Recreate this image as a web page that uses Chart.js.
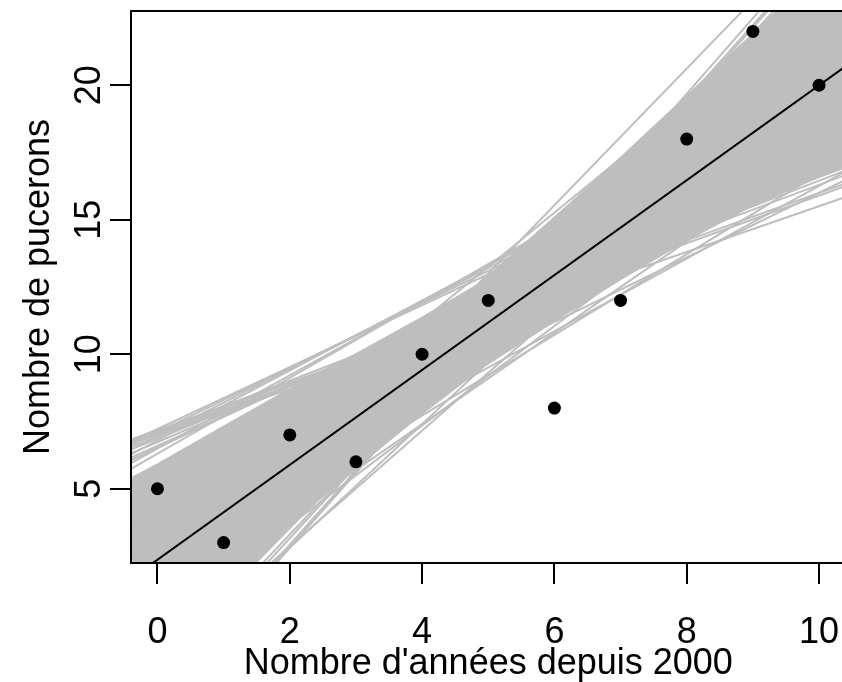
<!DOCTYPE html>
<html>
<head>
<meta charset="utf-8">
<script src="https://cdn.jsdelivr.net/npm/chart.js@4"></script>
<style>
  html, body { margin: 0; padding: 0; background: #fff; overflow: hidden; }
  #wrap { width: 842px; height: 682px; overflow: hidden; }
</style>
</head>
<body>
<div id="wrap"><canvas id="plot" width="852" height="682"></canvas></div>
<script>
// observed counts
const years = [0, 1, 2, 3, 4, 5, 6, 7, 8, 9, 10];
const aphids = [5, 3, 7, 6, 10, 12, 8, 12, 18, 22, 20];

const xTicks = [0, 2, 4, 6, 8, 10];
const yTicks = [5, 10, 15, 20];

// all straight lines are given by their values at these two x positions
const lineEnds = [-0.5, 10.5];
const fitLine = [1.48, 20.88];

// resampled regression lines (edges of the grey band)
const greyLines = [
  [6.74, 16.44], [6.62, 16.76], [6.46, 16.93], [6.36, 17.35], [6.21, 17.72],
  [6.05, 18.15], [5.95, 18.57], [6.58, 15.93], [6.61, 16.34], [6.65, 17.07],
  [6.65, 19.30], [6.50, 19.70], [6.33, 20.08], [6.15, 20.45], [5.82, 20.78],
  [5.60, 21.11], [2.20, 24.31], [0.91, 24.89], [-0.16, 25.26], [-0.97, 26.97],
  [-4.22, 26.71], [-4.08, 26.28], [-3.98, 26.38], [-3.54, 25.94], [-3.20, 25.40],
  [-2.76, 24.96], [-2.94, 22.35], [-2.52, 21.14], [-0.98, 19.38], [-0.25, 18.45],
  [0.97, 17.47], [2.08, 16.93], [3.40, 16.60]
];

// dense core of the band, where the lines overlap completely
const bandX = [-0.5, 0, 1, 2, 3, 4, 4.9, 6, 7, 8, 9, 10, 10.5];
const bandTop = [5.3, 5.95, 7.35, 8.75, 10.05, 11.4, 12.7, 15.1, 17.35, 19.65, 21.95, 24.3, 25.5];
const bandBottom = [-3.0, -1.5, 0.9, 3.6, 5.75, 7.75, 9.45, 11.2, 12.75, 14.2, 15.5, 16.55, 17.0];

const FONT = 'Liberation Sans';
const GREY = '#bebebe';

Chart.defaults.font.family = FONT;
Chart.defaults.color = '#000';

function pairs(xs, ys) {
  return xs.map((x, i) => ({ x: x, y: ys[i] }));
}

const datasets = [];
datasets.push({
  data: pairs(years, aphids),
  showLine: false,
  pointRadius: 6.5,
  pointBackgroundColor: '#000',
  pointBorderWidth: 0,
  order: 0
});
datasets.push({
  data: pairs(lineEnds, fitLine),
  borderColor: '#000',
  borderWidth: 2,
  pointRadius: 0,
  clip: 0,
  order: 1
});
greyLines.forEach(l => {
  datasets.push({
    data: pairs(lineEnds, l),
    borderColor: GREY,
    borderWidth: 2,
    pointRadius: 0,
    clip: 0,
    order: 2
  });
});
datasets.push({
  data: pairs(bandX, bandTop),
  borderWidth: 0,
  borderColor: GREY,
  backgroundColor: GREY,
  pointRadius: 0,
  fill: '+1',
  clip: 0,
  order: 3
});
datasets.push({
  data: pairs(bandX, bandBottom),
  borderWidth: 0,
  borderColor: GREY,
  pointRadius: 0,
  fill: false,
  clip: 0,
  order: 4
});

const frame = {
  id: 'frame',
  afterDatasetsDraw(chart) {
    const { ctx, chartArea: a } = chart;
    const y = chart.scales.y;
    ctx.save();
    ctx.strokeStyle = '#000';
    ctx.lineWidth = 2;
    ctx.strokeRect(a.left, a.top, a.right - a.left, a.bottom - a.top);
    ctx.fillStyle = '#000';
    ctx.font = '36px "' + FONT + '"';
    ctx.textAlign = 'center';
    ctx.textBaseline = 'alphabetic';
    yTicks.forEach(v => {
      ctx.save();
      ctx.translate(100, y.getPixelForValue(v));
      ctx.rotate(-Math.PI / 2);
      ctx.fillText(String(v), 0, 0);
      ctx.restore();
    });
    ctx.restore();
  }
};

new Chart(document.getElementById('plot'), {
  type: 'line',
  data: { datasets: datasets },
  options: {
    responsive: false,
    animation: false,
    events: [],
    layout: { padding: { top: 11, left: 0, right: 0, bottom: 0 } },
    plugins: { legend: { display: false }, tooltip: { enabled: false } },
    scales: {
      x: {
        type: 'linear',
        min: -0.4,
        max: 10.4,
        afterBuildTicks: s => { s.ticks = xTicks.map(v => ({ value: v })); },
        afterFit: s => { s.height = 119; s.paddingLeft = 0; s.paddingRight = 0; },
        border: { display: false },
        grid: { drawOnChartArea: false, drawTicks: true, tickLength: 21, color: '#000', lineWidth: 2 },
        ticks: { font: { size: 36, lineHeight: 1 }, padding: 31, maxRotation: 0, autoSkip: false },
        title: {
          display: true,
          text: "Nombre d'années depuis 2000",
          font: { size: 36, lineHeight: 1 },
          padding: { top: 0, bottom: 0 }
        }
      },
      y: {
        type: 'linear',
        min: 2.24,
        max: 22.76,
        afterBuildTicks: s => { s.ticks = yTicks.map(v => ({ value: v })); },
        afterFit: s => { s.width = 131; s.paddingTop = 0; s.paddingBottom = 0; },
        border: { display: false },
        grid: { drawOnChartArea: false, drawTicks: true, tickLength: 21, color: '#000', lineWidth: 2 },
        ticks: { display: false },
        title: {
          display: true,
          text: 'Nombre de pucerons',
          font: { size: 36, lineHeight: 1 },
          padding: { top: 21, bottom: 0 }
        }
      }
    }
  },
  plugins: [frame]
});
</script>
</body>
</html>
